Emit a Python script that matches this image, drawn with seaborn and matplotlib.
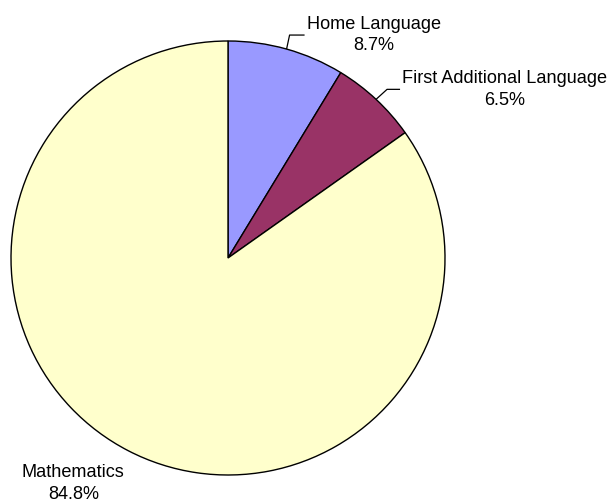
import matplotlib
matplotlib.use("Agg")
import matplotlib.pyplot as plt
import seaborn as sns
import numpy as np

# Share of subjects
categories = ["Home Language", "First Additional Language", "Mathematics"]
shares = [8.7, 6.5, 84.8]
slice_colors = ["#9999FF", "#993366", "#FFFFCC"]

sns.set_theme(style="white")
plt.rcParams["font.family"] = ["Liberation Sans", "DejaVu Sans"]

W, H = 613, 501
fig = plt.figure(figsize=(W / 100, H / 100), dpi=100)
ax = fig.add_axes([0, 0, 1, 1])
ax.set_xlim(0, W)
ax.set_ylim(0, H)
ax.set_aspect("equal")
ax.axis("off")

cx, cy, r = 228, H - 258, 217
wedges, _ = ax.pie(shares, colors=slice_colors, startangle=90, counterclock=False,
                   center=(cx, cy), radius=r,
                   wedgeprops=dict(edgecolor="black", linewidth=1.0))
ax.set_xlim(0, W)
ax.set_ylim(0, H)

# leader elbow (dx, dy, horizontal run) per label, None = plain label
leaders = [(3, 14, 15), (11, 10, 13), None]

fs = 13.1
for w, name, val, lead in zip(wedges, categories, shares, leaders):
    mid = np.deg2rad((w.theta1 + w.theta2) / 2)
    ex, ey = cx + r * np.cos(mid), cy + r * np.sin(mid)
    label = f"{name}\n{val:.1f}%"
    if lead is not None:
        dx, dy, run = lead
        kx, ky = ex + dx, ey + dy
        hx = kx + run
        ax.plot([ex, kx, hx], [ey, ky, ky], color="black", lw=0.9,
                solid_capstyle="butt")
        ax.text(hx + 2, ky, label, ha="left", va="center", fontsize=fs,
                multialignment="center", linespacing=1.35, color="black")
    else:
        ax.text(ex - 55, ey - 33, label, ha="center", va="center", fontsize=fs,
                multialignment="center", linespacing=1.35, color="black")

fig.savefig("out.png", dpi=100, facecolor="white")
